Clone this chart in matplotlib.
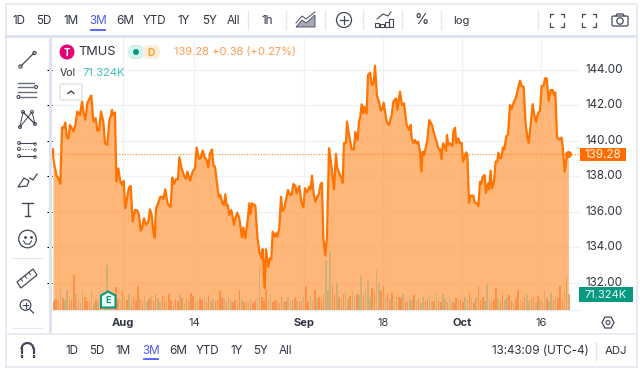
#!/usr/bin/env python3
"""TMUS 3M area chart inside a broker-style chart widget. Saves out.png."""
import matplotlib
matplotlib.use("Agg")
import matplotlib.pyplot as plt
import numpy as np
from matplotlib.patches import Arc, Circle, FancyBboxPatch, Polygon, Rectangle

plt.rcParams["font.family"] = ["Inter", "DejaVu Sans"]

# time position is in thirds of a screen pixel; three stretches read separately
pos_a = [0, 1, 5, 11, 16, 22, 27, 32, 37, 41, 46, 51, 55, 61, 67, 73, 81, 87, 92, 97, 103, 110,
         115, 119, 122, 128, 133, 138, 144, 151, 156, 163, 169, 173, 177, 180, 186, 190, 196,
         201, 207, 212, 217, 223, 228, 233, 239, 246, 253, 258, 263, 267, 273, 279, 286, 291,
         296, 301, 305, 309, 314, 321, 326, 331, 337, 343, 349, 353, 358, 363, 369, 375, 379,
         386, 393, 399, 403, 411, 419, 426, 431, 438, 443, 449, 455, 461, 466]
price_a = [139.53, 139.0, 138.56, 138.03, 137.9, 137.58, 140.77, 140.72, 141.04, 140.25, 140.13,
           140.9, 140.77, 140.53, 140.9, 141.66, 141.47, 142.22, 141.56, 141.2, 142.13, 142.41,
           142.56, 141.56, 141.09, 141.28, 140.59, 140.59, 141.66, 141.09, 139.87, 139.78, 141.2,
           141.37, 141.75, 141.47, 141.6, 137.71, 138.46, 137.8, 137.52, 137.75, 136.21, 136.87,
           137.39, 137.47, 135.46, 136.12, 136.08, 135.83, 134.95, 135.08, 135.65, 135.27, 135.46,
           136.15, 135.83, 134.9, 134.56, 136.21, 136.4, 136.83, 136.87, 136.73, 137.28, 136.53,
           136.34, 136.3, 137.94, 137.58, 137.86, 137.84, 139.08, 138.46, 138.05, 137.86, 138.28,
           137.77, 138.28, 138.46, 139.63, 138.99, 139.03, 139.46, 139.08, 138.93, 138.52]

pos_b = [471, 477, 481, 486, 491, 497, 502, 508, 513, 517, 521, 525, 528, 535, 543, 547, 553, 559,
         567, 571, 577, 584, 589, 593, 597, 607, 613, 619, 626, 629, 635, 639, 646, 651, 655, 659,
         665, 669, 673, 679, 684, 688, 693, 699, 705, 711, 716, 721, 727, 731, 739, 745, 751, 756,
         763, 769, 773, 777, 782, 787, 793, 798, 803, 807, 811, 817, 822, 828, 833, 838, 843, 849,
         853, 859, 865, 869, 873, 879, 882, 889, 896, 903, 907, 914, 918, 922, 926, 931, 934, 941,
         945, 951, 957, 962, 966, 972, 978, 983, 988, 992, 998, 1001, 1008]
price_b = [139.3, 139.53, 138.65, 138.55, 137.8, 136.86, 136.96, 136.52, 136.39, 137.0, 136.36,
           136.37, 135.83, 136.11, 135.27, 135.64, 135.96, 135.64, 134.57, 135.12, 134.52, 135.55,
           136.49, 135.89, 136.49, 136.36, 134.61, 133.76, 133.39, 133.91, 131.7, 133.9, 132.92,
           133.39, 133.35, 134.89, 134.61, 134.8, 134.61, 135.12, 136.86, 136.07, 136.15, 136.67,
           137.24, 136.96, 136.96, 137.58, 137.48, 137.05, 137.46, 136.58, 136.26, 137.33, 137.11,
           137.43, 137.28, 138.05, 137.01, 136.58, 136.86, 137.05, 137.58, 137.65, 134.52, 133.54,
           134.61, 139.59, 138.93, 138.08, 137.28, 139.27, 138.46, 138.18, 137.9, 137.65, 139.87,
           139.91, 141.09, 140.24, 139.53, 139.53, 140.52, 140.06, 141.09, 141.37, 142.07, 141.56,
           141.93, 141.56, 143.72, 143.85, 143.15, 143.25, 144.24, 142.53, 142.22, 141.71, 141.79,
           142.16, 141.46, 141.09, 140.9]

pos_c = [1016, 1021, 1029, 1033, 1041, 1047, 1053, 1061, 1068, 1073, 1076, 1081, 1086, 1091, 1096,
         1101, 1105, 1109, 1113, 1119, 1123, 1129, 1137, 1143, 1151, 1156, 1161, 1166, 1168, 1171,
         1179, 1182, 1186, 1191, 1199, 1201, 1206, 1210, 1216, 1221, 1226, 1230, 1234, 1239, 1243,
         1248, 1252, 1261, 1265, 1271, 1276, 1281, 1285, 1289, 1295, 1299, 1305, 1308, 1313, 1317,
         1323, 1328, 1333, 1336, 1341, 1345, 1350, 1354, 1360, 1365, 1371, 1376, 1383, 1388, 1393,
         1401, 1406, 1412, 1418, 1423, 1427, 1433, 1439, 1445, 1449, 1455, 1461, 1466, 1472, 1476,
         1481, 1487, 1493, 1499, 1503, 1507, 1512, 1518, 1526, 1530, 1535, 1541, 1546]
price_c = [141.46, 142.22, 142.4, 141.75, 142.78, 142.03, 142.12, 140.9, 140.62, 140.9, 140.15,
           139.87, 140.06, 139.87, 139.96, 139.4, 138.27, 139.4, 139.21, 139.68, 140.06, 141.18,
           140.9, 140.43, 139.96, 139.59, 139.53, 138.97, 139.59, 139.87, 139.45, 140.34, 139.77,
           139.87, 139.72, 140.53, 140.75, 139.87, 140.15, 139.87, 139.9, 138.84, 139.02, 139.36,
           139.25, 136.53, 136.92, 136.92, 136.53, 136.49, 136.34, 137.71, 137.58, 137.99, 138.08,
           137.09, 137.61, 137.28, 138.33, 137.33, 137.71, 138.84, 138.84, 139.34, 139.02, 139.06,
           139.64, 139.53, 140.28, 140.34, 142.03, 141.8, 142.22, 142.4, 142.78, 143.4, 143.1,
           143.06, 140.9, 140.24, 139.9, 140.9, 142.08, 141.37, 141.09, 141.56, 141.71, 143.1,
           143.12, 143.53, 143.53, 142.27, 142.87, 142.87, 142.59, 142.74, 140.2, 140.09, 140.19,
           139.49, 138.27, 139.12, 139.27]

# thousands of shares per bar, left to right
volume = [42, 48, 38, 94, 55, 46, 89, 50, 44, 156, 70, 42, 36, 89, 60, 38, 34, 89, 30, 44,
          40, 36, 45, 62, 200, 58, 30, 42, 104, 48, 38, 89, 60, 44, 72, 40, 52, 46, 107, 50,
          42, 66, 34, 48, 58, 40, 71, 52, 36, 62, 44, 38, 70, 46, 35, 50, 42, 68, 55, 30,
          48, 38, 76, 62, 40, 34, 52, 44, 58, 36, 66, 42, 50, 38, 46, 85, 60, 48, 34, 58,
          40, 34, 44, 38, 89, 46, 36, 42, 34, 48, 32, 40, 52, 196, 56, 40, 89, 44, 71, 34,
          46, 38, 30, 56, 34, 42, 60, 36, 44, 52, 38, 34, 40, 58, 107, 36, 62, 44, 89, 52,
          60, 44, 70, 223, 90, 263, 110, 66, 120, 58, 44, 70, 80, 50, 62, 85, 58, 72, 66, 152,
          70, 88, 129, 60, 96, 74, 178, 118, 84, 107, 56, 70, 48, 78, 42, 62, 60, 54, 72, 38,
          36, 50, 44, 67, 38, 48, 32, 56, 40, 44, 67, 36, 42, 76, 40, 34, 71, 48, 34, 58,
          38, 30, 52, 42, 48, 36, 60, 44, 76, 52, 36, 58, 107, 46, 60, 40, 115, 50, 34, 44,
          98, 54, 38, 80, 46, 60, 67, 42, 36, 50, 89, 44, 34, 56, 67, 40, 48, 58, 36, 62,
          44, 38, 89, 52, 40, 76, 46, 60, 54, 107, 44, 90, 147, 71.324]
volume_dir = ("ddduduuddd" "uduuddduud" "ududuuddddududuudddu" "duududduuddudduddudu"
              "dudduuddudduuddddudu" "uddududduu" "dduuddduud" "dudduduudd" "uddudduudu"
              "ddduuuddud" "uduuduuduu" "duuudduudd" "ududuuddud" "duududuudd" "uududduudu"
              "uddudduudu" "duddduuudd" "dudduuddud" "dudduuddud" "ududuududddudu")

price_ticks = [132, 134, 136, 138, 140, 142, 144]
time_ticks = [210, 423, 753, 990, 1227, 1464]
time_labels = ["Aug", "14", "Sep", "18", "Oct", "16"]
time_bold = ["Aug", "Sep", "Oct"]
ranges = ["1D", "5D", "1M", "3M", "6M", "YTD", "1Y", "5Y", "All"]
last_price = 139.28

ORANGE = "#ff7300"
TEAL = "#089981"
INK = "#2f3440"
ICON = "#434857"
RULE = "#e3e6ee"
BLUE = "#4a5cf0"

W, H = 640, 369
fig = plt.figure(figsize=(W / 100, H / 100), dpi=100, facecolor="white")

# chrome layer, in screen pixels
ui = fig.add_axes([0, 0, 1, 1], zorder=3)
ui.set_xlim(0, W)
ui.set_ylim(H, 0)
ui.axis("off")
ui.patch.set_alpha(0)

# chart area: pixel box x 52..581, y 38..310
PX_L, PX_R, PX_T, PX_B = 52, 581, 38, 310
ax = fig.add_axes([PX_L / W, 1 - PX_B / H, (PX_R - PX_L) / W, (PX_B - PX_T) / H], zorder=1)
ax.set_xlim(-3, (PX_R - 53) * 3)
ax.set_ylim(132 - (PX_B - 283) / 17.75, 144 + (70 - PX_T) / 17.75)
for s in ax.spines.values():
    s.set_visible(False)
ax.tick_params(left=False, bottom=False, labelleft=False, labelbottom=False)
ax.set_yticks(price_ticks)
ax.set_xticks(time_ticks)
ax.grid(True, color="#f0f1f5", linewidth=0.9)
ax.set_axisbelow(True)

pos = pos_a + pos_b + pos_c
price = price_a + price_b + price_c
ax.fill_between(pos, price, ax.get_ylim()[0], color="#ff9a45", alpha=0.72, linewidth=0, zorder=2)
ax.plot(pos, price, color=ORANGE, linewidth=1.6, solid_joinstyle="round", zorder=4)
ax.plot(pos[-1], price[-1], "o", color=ORANGE, markersize=4, zorder=5)
ax.axhline(last_price, color="#ff8a30", linewidth=0.8, linestyle=(0, (1, 1.5)), zorder=3)

# volume on its own scale, 71.324K is about 16 px tall
vol_ax = ax.twinx()
vol_ax.set_ylim(0, (PX_B - PX_T) * 71.324 / 16)
vol_ax.axis("off")
vol_pos = np.arange(len(volume)) * 6.63 + 3
vol_col = ["#cfae78" if d == "u" else "#ff9048" for d in volume_dir]
vol_ax.bar(vol_pos, volume, width=4.6, color=vol_col, linewidth=0)
ax.set_zorder(1)
vol_ax.set_zorder(2)

# frame and separators
ui.add_patch(Rectangle((5.5, 3.5), 631, 363, fill=False, edgecolor=RULE, linewidth=1.2))
ui.add_patch(Rectangle((5, 35), 632, 3, color="#dfe3ef", linewidth=0))
ui.add_patch(Rectangle((49, 38), 3, 297, color="#dfe3ef", linewidth=0))
ui.add_patch(Rectangle((5, 333), 632, 2.4, color="#e9ebf2", linewidth=0))
ui.add_patch(Rectangle((52, 310), 530, 0.8, color="#e9ebf2", linewidth=0))
for x in [248, 286, 325, 363, 402, 441, 538]:
    ui.plot([x, x], [11, 29], color=RULE, linewidth=0.9)
ui.plot([596, 596], [342, 360], color=RULE, linewidth=0.9)

# range buttons, top and bottom
for label, x in zip(ranges, [19, 44, 71, 98, 125, 155, 184, 210, 233]):
    ui.text(x, 20.5, label, ha="center", va="center", fontsize=8.4,
            color=BLUE if label == "3M" else INK)
ui.plot([91, 105], [30, 30], color=BLUE, linewidth=1.3)
for label, x in zip(ranges, [72, 97, 123, 151, 178, 208, 237, 261, 285]):
    ui.text(x, 351, label, ha="center", va="center", fontsize=8.4,
            color=BLUE if label == "3M" else INK)
ui.plot([144, 158], [359, 359], color=BLUE, linewidth=1.3)
ui.text(267, 20.5, "1h", ha="center", va="center", fontsize=8.4, color=INK)
ui.text(422, 20.5, "%", ha="center", va="center", fontsize=10.5, color=INK)
ui.text(461, 20.5, "log", ha="center", va="center", fontsize=8, color=INK)
ui.text(540, 351, "13:43:09 (UTC-4)", ha="center", va="center", fontsize=8.4, color=INK)
ui.text(616, 351, "ADJ", ha="center", va="center", fontsize=8.2, color=INK)

# toolbar icons
ui.add_patch(Polygon([(296, 27), (302, 20), (306, 23), (315, 15), (315, 27)], closed=True,
                     facecolor="#a5a9b6", edgecolor=ICON, linewidth=0.6))
ui.plot([296, 302, 306, 315], [23, 16, 19, 12], color=ICON, linewidth=0.7)
ui.add_patch(Circle((344, 20), 7.5, fill=False, edgecolor=ICON, linewidth=0.9))
ui.plot([340, 348], [20, 20], color=ICON, linewidth=0.9)
ui.plot([344, 344], [16, 24], color=ICON, linewidth=0.9)
for x, top in zip([377, 382, 387, 391], [23, 24, 22, 19]):
    ui.add_patch(Rectangle((x - 1.6, top), 3.2, 27 - top, fill=False, edgecolor=ICON, linewidth=0.8))
ui.plot([377, 383, 388, 391], [19, 14, 16, 12], color=ICON, linewidth=0.8)
for cx in [557, 589]:
    for sx in [-1, 1]:
        for sy in [-1, 1]:
            ui.plot([cx + sx * 4, cx + sx * 7, cx + sx * 7], [20 + sy * 6.5, 20 + sy * 6.5, 20 + sy * 3],
                    color=ICON, linewidth=0.9)
ui.add_patch(FancyBboxPatch((612, 16), 16, 10, boxstyle="round,pad=0,rounding_size=1.5",
                            fill=False, edgecolor=ICON, linewidth=0.9))
ui.plot([616, 617, 623, 624], [16, 14, 14, 16], color=ICON, linewidth=0.9)
ui.add_patch(Circle((620, 21), 3.2, fill=False, edgecolor=ICON, linewidth=0.9))

# drawing tools on the left
ui.plot([21, 34], [66, 53], color=ICON, linewidth=0.9)
ui.add_patch(Circle((20.5, 66.5), 1.6, facecolor="white", edgecolor=ICON, linewidth=0.8))
ui.add_patch(Circle((34.5, 53), 1.6, facecolor="white", edgecolor=ICON, linewidth=0.8))
for y, x0, x1 in [(83, 18, 34), (87, 18, 34), (92, 18, 36), (97, 20, 36)]:
    ui.plot([x0, x1], [y, y], color="#6a6f7d", linewidth=1.0)
ui.add_patch(Circle((36, 87), 1.5, facecolor="white", edgecolor=ICON, linewidth=0.8))
ui.add_patch(Circle((18.5, 97), 1.5, facecolor="white", edgecolor=ICON, linewidth=0.8))
pts = [(20, 127), (23, 112), (35, 124), (32, 112), (20, 127)]
ui.plot([p[0] for p in pts], [p[1] for p in pts], color=ICON, linewidth=0.7)
ui.plot([23, 35], [112, 124], color=ICON, linewidth=0.7)
for p in pts[:4]:
    ui.add_patch(Circle(p, 1.5, facecolor="white", edgecolor=ICON, linewidth=0.7))
for y in [143, 149, 156]:
    ui.plot([19, 35], [y, y], color=ICON, linewidth=0.8, linestyle="-" if y != 149 else ":")
    ui.add_patch(Circle((19, y), 1.5, facecolor="white", edgecolor=ICON, linewidth=0.7))
    ui.add_patch(Circle((35, y + 1), 1.3, facecolor="white", edgecolor=ICON, linewidth=0.6))
ui.add_patch(Polygon([(18, 187), (24, 178), (29, 181), (27, 186)], closed=True, fill=False,
                     edgecolor=ICON, linewidth=0.9))
ui.plot([30, 33, 37], [178, 180, 174], color=ICON, linewidth=0.9)
ui.plot([22, 33], [203, 203], color=ICON, linewidth=1)
ui.plot([27.5, 27.5], [203, 216], color=ICON, linewidth=1)
ui.plot([25, 30], [216, 216], color=ICON, linewidth=1)
ui.add_patch(Circle((27.5, 239), 8.8, fill=False, edgecolor=ICON, linewidth=0.9))
ui.plot([24.5, 30.5], [237, 237], linestyle="none", marker="o", markersize=1, color=ICON)
ui.plot([23.5, 25.5, 29.5, 31.5], [241, 244, 244, 241], color=ICON, linewidth=0.8)
ui.plot([13, 42], [258, 258], color=RULE, linewidth=0.9)
ui.add_patch(Polygon([(17, 282), (33, 269), (37, 275), (21, 288)], closed=True, fill=False,
                     edgecolor=ICON, linewidth=0.9))
for x0, y0 in [(21, 279), (25, 276), (29, 272.5)]:
    ui.plot([x0, x0 + 1.5], [y0, y0 + 2.2], color=ICON, linewidth=0.7)
ui.add_patch(Circle((25.5, 305), 5.3, fill=False, edgecolor=ICON, linewidth=0.9))
ui.plot([23, 28], [305, 305], color=ICON, linewidth=0.8)
ui.plot([25.5, 25.5], [302.5, 307.5], color=ICON, linewidth=0.8)
ui.plot([30, 33.5], [309.5, 313], color=ICON, linewidth=0.9)
ui.plot([13, 42], [328, 328], color=RULE, linewidth=0.9)
# magnet
ui.add_patch(Arc((27.5, 349), 12, 12, theta1=180, theta2=360, color=ICON, linewidth=1.6))
ui.plot([21.5, 21.5], [349, 357], color=ICON, linewidth=1.6)
ui.plot([33.5, 33.5], [349, 357], color=ICON, linewidth=1.6)
ui.plot([20.5, 22.5], [354, 354], color="white", linewidth=0.6)
ui.plot([32.5, 34.5], [354, 354], color="white", linewidth=0.6)

# legend header
ui.add_patch(Circle((67, 52), 7.5, color="#e20074", linewidth=0))
ui.text(67, 52.5, "T", ha="center", va="center", fontsize=7, color="white", fontweight="bold")
ui.text(78, 52, "TMUS", va="center", fontsize=9.2, color=INK)
ui.add_patch(FancyBboxPatch((128, 45), 16, 14, boxstyle="round,pad=0,rounding_size=6",
                            color="#d6f2ee", linewidth=0))
ui.add_patch(FancyBboxPatch((143, 45), 17, 14, boxstyle="round,pad=0,rounding_size=6",
                            color="#fdeeda", linewidth=0))
ui.add_patch(Circle((136, 52), 3, color=TEAL, linewidth=0))
ui.text(151, 52.5, "D", ha="center", va="center", fontsize=7.4, color="#f9a13a", fontweight="bold")
ui.text(174, 52.5, "139.28 +0.38 (+0.27%)", va="center", fontsize=8, color="#ff9a4d")
ui.text(60, 72.5, "Vol", va="center", fontsize=7.6, color=INK)
ui.text(82, 72.5, "71.324K", va="center", fontsize=8.1, color="#42c4b0")
ui.add_patch(FancyBboxPatch((60, 84), 22, 16, boxstyle="round,pad=0,rounding_size=2",
                            facecolor="white", edgecolor="#dcdfe8", linewidth=0.9))
ui.plot([68, 71, 74], [93.5, 91, 93.5], color=INK, linewidth=0.9)

# earnings flag
ui.add_patch(Polygon([(101, 295.5), (108, 291.5), (115.5, 295.5), (115.5, 307.5), (101, 307.5)], closed=True,
                     facecolor="#eafaf7", edgecolor=TEAL, linewidth=1.5))
ui.text(108, 300.5, "E", ha="center", va="center", fontsize=6.6, color=TEAL, fontweight="bold")

# price scale, drawn from the same scale as the chart
for p in price_ticks:
    y = PX_T + (ax.get_ylim()[1] - p) / (ax.get_ylim()[1] - ax.get_ylim()[0]) * (PX_B - PX_T)
    ui.text(604, y, f"{p:.2f}", ha="center", va="center", fontsize=8.4, color=INK)
ui.add_patch(Rectangle((580, 148), 46, 13, color="#ff6d00", linewidth=0))
ui.text(603, 154.8, f"{last_price:.2f}", ha="center", va="center", fontsize=8.4, color="#fff1e6")
ui.add_patch(Rectangle((579, 287), 54, 15, color=TEAL, linewidth=0))
ui.text(606, 294.8, "71.324K", ha="center", va="center", fontsize=8, color="#eafaf7")

# time scale
for t, label in zip(time_ticks, time_labels):
    x = 53 + t / 3
    ui.text(x, 322.5, label, ha="center", va="center", fontsize=8,
            color=INK, fontweight="bold" if label in time_bold else "normal")
ui.add_patch(Polygon([(602, 322.5), (605, 317), (611, 317), (614, 322.5), (611, 328), (605, 328)],
                     closed=True, fill=False, edgecolor=ICON, linewidth=0.9))
ui.add_patch(Circle((608, 322.5), 2, fill=False, edgecolor=ICON, linewidth=0.8))

fig.savefig("out.png", dpi=100)
